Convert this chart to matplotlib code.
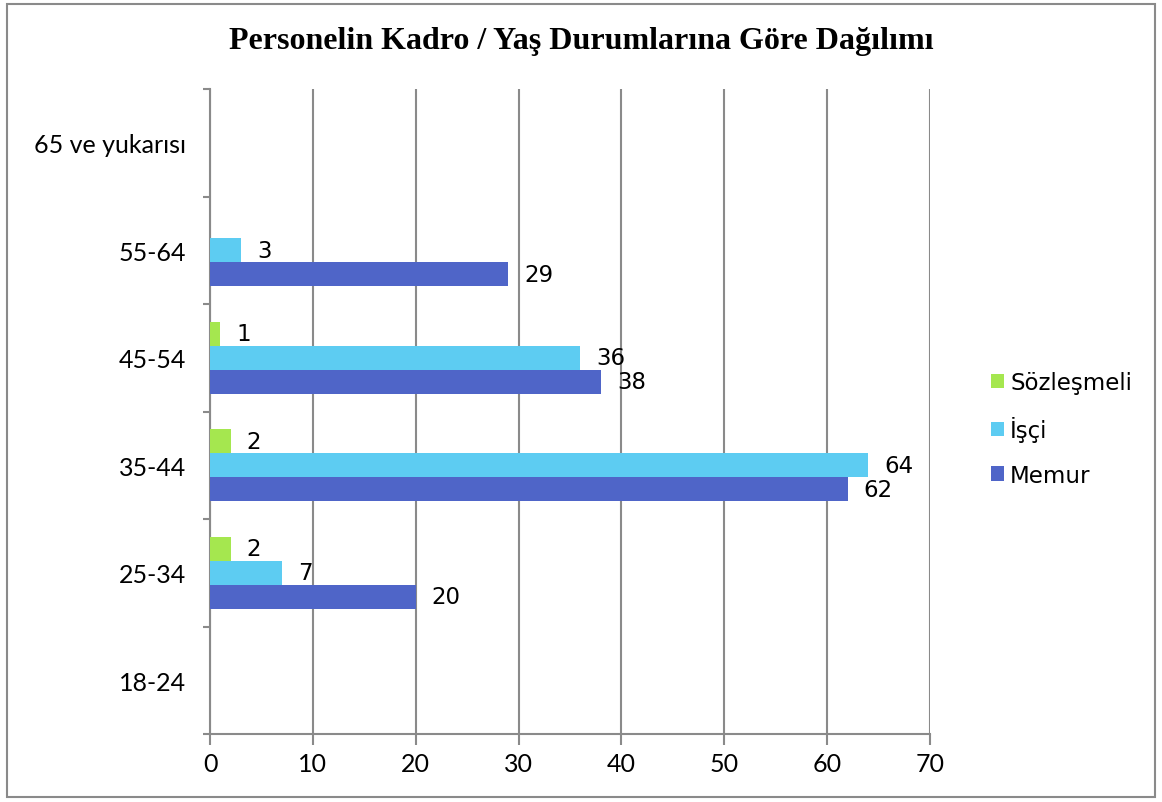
import numpy as np
import matplotlib
matplotlib.use("Agg")
import matplotlib.pyplot as plt
from matplotlib.patches import Rectangle

categories = ["18-24", "25-34", "35-44", "45-54", "55-64", "65 ve yukarısı"]
memur = [0, 20, 62, 38, 29, 0]
isci = [0, 7, 64, 36, 3, 0]
sozlesmeli = [0, 2, 2, 1, 0, 0]
series_names = ["Memur", "İşçi", "Sözleşmeli"]
colors = ["#4F65C8", "#5DCCF2", "#A5E74F"]

fig = plt.figure(figsize=(11.62, 8.03), dpi=100)
ax = fig.add_axes((210 / 1162, 1 - 735 / 803, 720 / 1162, 645 / 803))

# outer chart border
fig.patches.append(Rectangle((7 / 1162, 1 - 798 / 803), 1148 / 1162, 793 / 803,
                             transform=fig.transFigure, fill=False,
                             edgecolor="#8a8a8a", lw=1.5))

y = np.arange(len(categories))
h = 0.223
bars = []
for i, (vals, c) in enumerate(zip([memur, isci, sozlesmeli], colors)):
    b = ax.barh(y + (i - 1) * h, vals, height=h, color=c, label=series_names[i], zorder=3)
    bars.append(b)
    for yy, v in zip(y + (i - 1) * h, vals):
        if v > 0:
            ax.annotate(str(v), (v, yy), xytext=(11.5, 0), textcoords="offset points",
                        va="center", ha="left", fontsize=16.5, family="DejaVu Sans")

ax.set_xlim(0, 70)
ax.set_ylim(-0.5, len(categories) - 0.5)
ax.set_xticks(range(0, 71, 10))
ax.set_yticks(y)
ax.set_yticklabels(categories)
ax.set_yticks(np.arange(-0.5, len(categories), 1), minor=True)
ax.tick_params(axis="y", which="major", length=0, pad=17, labelsize=18)
ax.tick_params(axis="y", which="minor", length=5, color="#8a8a8a", width=1.5)
ax.tick_params(axis="x", length=8, color="#8a8a8a", width=1.5, labelsize=18, pad=5)
for lab in ax.get_xticklabels() + ax.get_yticklabels():
    lab.set_family("Lato")

ax.grid(axis="x", color="#8a8a8a", lw=1.5, zorder=0)
for s in ["top", "right"]:
    ax.spines[s].set_visible(False)
for s in ["left", "bottom"]:
    ax.spines[s].set_color("#8a8a8a")
    ax.spines[s].set_linewidth(1.5)

handles = bars[::-1]
leg = fig.legend(handles, series_names[::-1], loc="center left",
                 bbox_to_anchor=(970 / 1162, 1 - 430 / 803), frameon=False,
                 handlelength=0.6, handleheight=0.6, handletextpad=0.25,
                 labelspacing=0.95, prop={"family": "DejaVu Sans", "size": 16.5})

fig.text(0.5, 1 - 42 / 803, "Personelin Kadro / Yaş Durumlarına Göre Dağılımı",
         ha="center", va="center", fontsize=23, fontweight="bold",
         family="Liberation Serif")

fig.savefig("out.png", dpi=100)
